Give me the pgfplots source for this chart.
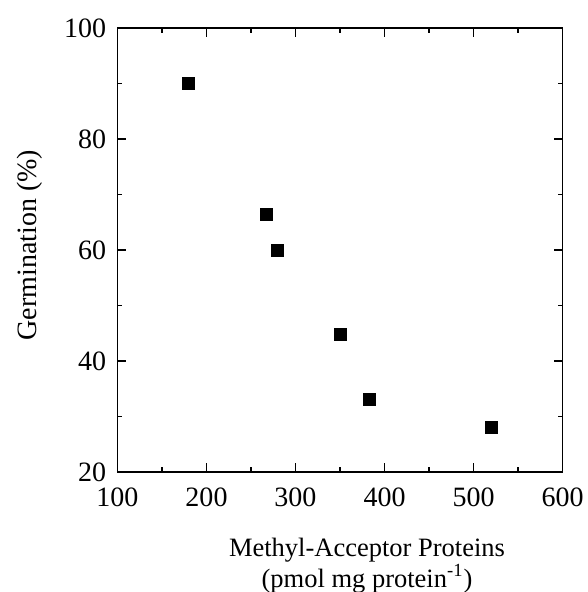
\documentclass[border=0pt]{standalone}
\usepackage{fontspec}
\setmainfont{Liberation Serif}
\usepackage{pgfplots}
\pgfplotsset{compat=1.18}

\begin{document}
\begin{tikzpicture}
\useasboundingbox (-58.75pt,-60pt) rectangle (234.75pt,236pt);
\begin{axis}[
    scale only axis,
    width=222.5pt, height=222pt,
    xmin=100, xmax=600, ymin=20, ymax=100,
    xtick={100,200,...,600}, ytick={20,40,...,100},
    minor x tick num=1, minor y tick num=1,
    tick align=inside,
    major tick length=4.5pt, minor tick length=2.5pt,
    axis line style={line width=0.8pt},
    every tick/.style={black, line width=0.7pt},
    /pgf/number format/assume math mode=true,
    ticklabel style={font=\fontsize{14}{16}\selectfont, inner sep=0pt},
    xticklabel style={yshift=-7.5pt},
    yticklabel style={xshift=-5.5pt},
    xlabel={Methyl-Acceptor Proteins\\(pmol mg protein\textsuperscript{-1})},
    ylabel={Germination (\%)},
    every axis x label/.style={at={(axis description cs:0.5,0)}, anchor=north,
        xshift=13.5pt, yshift=-33pt, inner sep=0pt, align=center,
        font=\fontsize{13.25}{12}\selectfont},
    every axis y label/.style={at={(axis description cs:0,0.5)}, anchor=center,
        rotate=90, yshift=43.75pt, xshift=2.5pt, inner sep=0pt,
        font=\fontsize{14}{16}\selectfont},
]
\addplot[only marks, mark=square*, mark size=3pt, black] coordinates {
    (180,90) (267,66.5) (280,60) (351,44.8) (383,33) (520,28)
};
\end{axis}
\end{tikzpicture}
\end{document}
